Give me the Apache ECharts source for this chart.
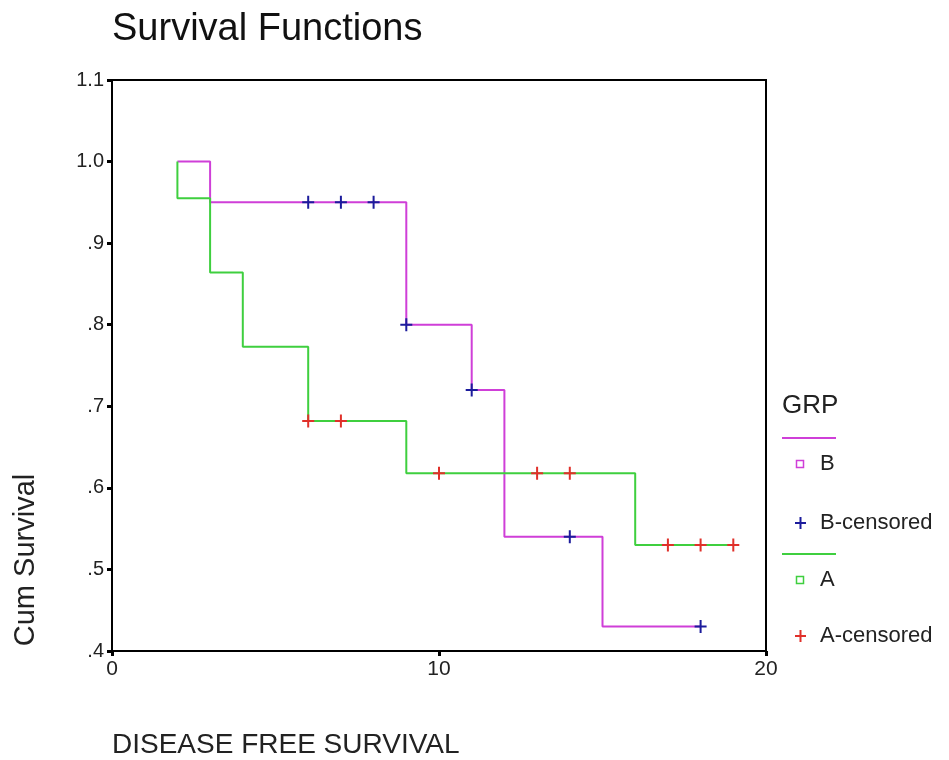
<!DOCTYPE html>
<html>
<head>
<meta charset="utf-8">
<script src="https://cdn.jsdelivr.net/npm/echarts@6/dist/echarts.min.js"></script>
<style>
  html, body { margin: 0; padding: 0; background: #fff; }
  #chart { width: 949px; height: 760px; }
</style>
</head>
<body>
<div id="chart"></div>
<script>
// group B (magenta) step curve: time, cumulative survival
const timesB = [2, 3, 9, 11, 12, 15, 18];
const survB = [1.0, 0.95, 0.80, 0.72, 0.54, 0.43, 0.43];
// group A (green) step curve
const timesA = [2, 2, 3, 4, 6, 9, 16, 19];
const survA = [1.0, 0.955, 0.864, 0.773, 0.682, 0.618, 0.53, 0.53];
// censored cases
const censTimesB = [6, 7, 8, 9, 11, 14, 18];
const censSurvB = [0.95, 0.95, 0.95, 0.80, 0.72, 0.54, 0.43];
const censTimesA = [6, 7, 10, 13, 14, 17, 18, 19];
const censSurvA = [0.682, 0.682, 0.618, 0.618, 0.618, 0.53, 0.53, 0.53];
// legend entries
const legendTitle = 'GRP';
const legendNames = ['B', 'B-censored', 'A', 'A-censored'];

const MAGENTA = '#cf3fd8';
const GREEN = '#3fcf3f';
const BLUE = '#1c1c9c';
const RED = '#e0302a';
const FONT = '"Liberation Sans", Arial, sans-serif';
const PLUS = 'path://M5,0h2v5.5h5v2h-5v5.5h-2v-5.5h-5v-2h5z';

const zip = (xs, ys) => xs.map((x, i) => [x, ys[i]]);

const chart = echarts.init(document.getElementById('chart'));

// legend drawn by hand (line / square / plus rows)
const legendX = 782;
const legendRows = [
  { y: 464, kind: 'square', color: MAGENTA, lineY: 438 },
  { y: 523, kind: 'plus', color: BLUE },
  { y: 580, kind: 'square', color: GREEN, lineY: 554 },
  { y: 636, kind: 'plus', color: RED }
];
const legendGraphics = [{
  type: 'text', x: legendX, y: 406,
  style: { text: legendTitle, font: '26px ' + FONT, fill: '#222', verticalAlign: 'middle' }
}];
legendRows.forEach((row, i) => {
  if (row.lineY) {
    legendGraphics.push({
      type: 'line', shape: { x1: legendX, y1: row.lineY, x2: legendX + 54, y2: row.lineY },
      style: { stroke: row.color, lineWidth: 2 }
    });
  }
  if (row.kind === 'square') {
    legendGraphics.push({
      type: 'rect', shape: { x: 796.5, y: row.y - 3.5, width: 7, height: 7 },
      style: { stroke: row.color, fill: 'none', lineWidth: 1.5 }
    });
  } else {
    legendGraphics.push({
      type: 'line', shape: { x1: 795, y1: row.y, x2: 806, y2: row.y },
      style: { stroke: row.color, lineWidth: 2 }
    });
    legendGraphics.push({
      type: 'line', shape: { x1: 800.5, y1: row.y - 6, x2: 800.5, y2: row.y + 6 },
      style: { stroke: row.color, lineWidth: 2 }
    });
  }
  legendGraphics.push({
    type: 'text', x: 820, y: row.y,
    style: { text: legendNames[i], font: '22px ' + FONT, fill: '#222', verticalAlign: 'middle' }
  });
});

chart.setOption({
  animation: false,
  backgroundColor: '#fff',
  grid: {
    left: 112, right: 183, top: 80, bottom: 109,
    show: true, borderColor: '#000', borderWidth: 2, backgroundColor: '#fff'
  },
  xAxis: {
    type: 'value', min: 0, max: 20, interval: 10,
    axisLine: { lineStyle: { color: '#000', width: 2 } },
    axisTick: { length: 5, lineStyle: { color: '#000', width: 3 } },
    axisLabel: { color: '#222', fontSize: 21, fontFamily: FONT, margin: 8 },
    splitLine: { show: false }
  },
  yAxis: {
    type: 'value', min: 0.4, max: 1.1, interval: 0.1,
    axisLine: { show: true, lineStyle: { color: '#000', width: 2 } },
    axisTick: { show: true, length: 5, lineStyle: { color: '#000', width: 3 } },
    axisLabel: {
      color: '#222', fontSize: 20, fontFamily: FONT, margin: 8,
      formatter: v => {
        const s = v.toFixed(1);
        return v < 1 ? s.replace(/^0/, '') : s;
      }
    },
    splitLine: { show: false }
  },
  series: [
    {
      name: 'B', type: 'line', step: 'end', symbol: 'none',
      data: zip(timesB, survB),
      lineStyle: { color: MAGENTA, width: 2 }
    },
    {
      name: 'A', type: 'line', step: 'end', symbol: 'none',
      data: zip(timesA, survA),
      lineStyle: { color: GREEN, width: 2 }
    },
    {
      name: 'B-censored', type: 'scatter', symbol: PLUS, symbolSize: [12, 13], z: 5,
      data: zip(censTimesB, censSurvB),
      itemStyle: { color: BLUE, opacity: 1 }
    },
    {
      name: 'A-censored', type: 'scatter', symbol: PLUS, symbolSize: [12, 13], z: 5,
      data: zip(censTimesA, censSurvA),
      itemStyle: { color: RED, opacity: 1 }
    }
  ],
  graphic: [
    {
      type: 'text', x: 112, y: 30,
      style: { text: 'Survival Functions', font: '38px ' + FONT, fill: '#111', verticalAlign: 'middle' }
    },
    {
      type: 'text', x: 112, y: 745,
      style: { text: 'DISEASE FREE SURVIVAL', font: '28px ' + FONT, fill: '#222', verticalAlign: 'middle' }
    },
    {
      type: 'text', x: 26, y: 560, rotation: Math.PI / 2,
      style: { text: 'Cum Survival', font: '29px ' + FONT, fill: '#222', align: 'center', verticalAlign: 'middle' }
    }
  ].concat(legendGraphics)
});
</script>
</body>
</html>
